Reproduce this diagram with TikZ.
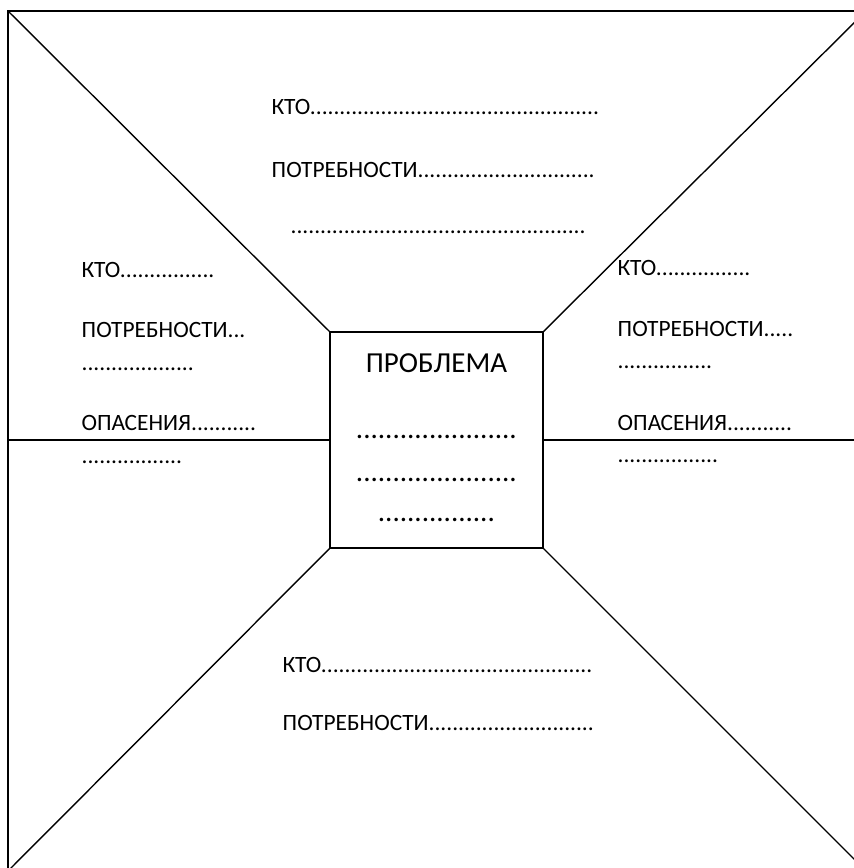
\documentclass[tikz,border=0pt]{standalone}
\usepackage{fontspec}
\setmainfont{Carlito}
\ExplSyntaxOn
\NewDocumentCommand\dts{m}{\prg_replicate:nn{#1}{.}}
\ExplSyntaxOff
\begin{document}
\begin{tikzpicture}[x=1pt,y=-1pt,line width=1.4pt,
  txt/.style={anchor=base west,inner sep=0pt,font=\fontsize{23.4}{28}\selectfont},
  big/.style={anchor=base,inner sep=0pt,font=\fontsize{29}{34}\selectfont},
  probbox/.style={draw,minimum width=213pt,minimum height=216pt,inner sep=0pt}]
\useasboundingbox (0,0) rectangle (854,868);
\fill[white] (0,0) rectangle (854,868);
\clip (0,0) rectangle (854,868);
% outer frame
\coordinate (otl) at (8,11);
\coordinate (otr) at (866,11);
\coordinate (obr) at (866,871);
\coordinate (obl) at (8,871);
\draw (otl) rectangle (obr);
% centre box
\node[probbox] (box) at (436.5,440) {};
\draw (otl) -- (box.north west);
\draw (otr) -- (box.north east);
\draw (obl) -- (box.south west);
\draw (obr) -- (box.south east);
\coordinate (lm) at (8,440);
\coordinate (rm) at (866,440);
\draw (lm) -- (box.west);
\draw (rm) -- (box.east);
% box text
\node[big] (pr) at (436.5,372) {ПРОБЛЕМА};
\node[big] (pd1) at (436.5,438) {\dts{22}};
\node[big] (pd2) at (436.5,481) {\dts{22}};
\node[big] (pd3) at (436.5,521) {\dts{16}};
% top
\node[txt] (t1) at (271,114) {КТО\dts{49}};
\node[txt] (t2) at (271,177) {ПОТРЕБНОСТИ\dts{30}};
\node[txt] (t3) at (290,233) {\dts{50}};
% left
\node[txt] (l1) at (81,277) {КТО\dts{16}};
\node[txt] (l2) at (81,337) {ПОТРЕБНОСТИ\dts{3}};
\node[txt] (l3) at (81,370) {\dts{19}};
\node[txt] (l4) at (81,430) {ОПАСЕНИЯ\dts{11}};
\node[txt] (l5) at (81,463) {\dts{17}};
% right
\node[txt] (r1) at (617,275) {КТО\dts{16}};
\node[txt] (r2) at (617,336) {ПОТРЕБНОСТИ\dts{5}};
\node[txt] (r3) at (617,368) {\dts{16}};
\node[txt] (r4) at (617,430) {ОПАСЕНИЯ\dts{11}};
\node[txt] (r5) at (617,462) {\dts{17}};
% bottom
\node[txt] (b1) at (282,672) {КТО\dts{46}};
\node[txt] (b2) at (282,730) {ПОТРЕБНОСТИ\dts{28}};
\end{tikzpicture}
\end{document}
